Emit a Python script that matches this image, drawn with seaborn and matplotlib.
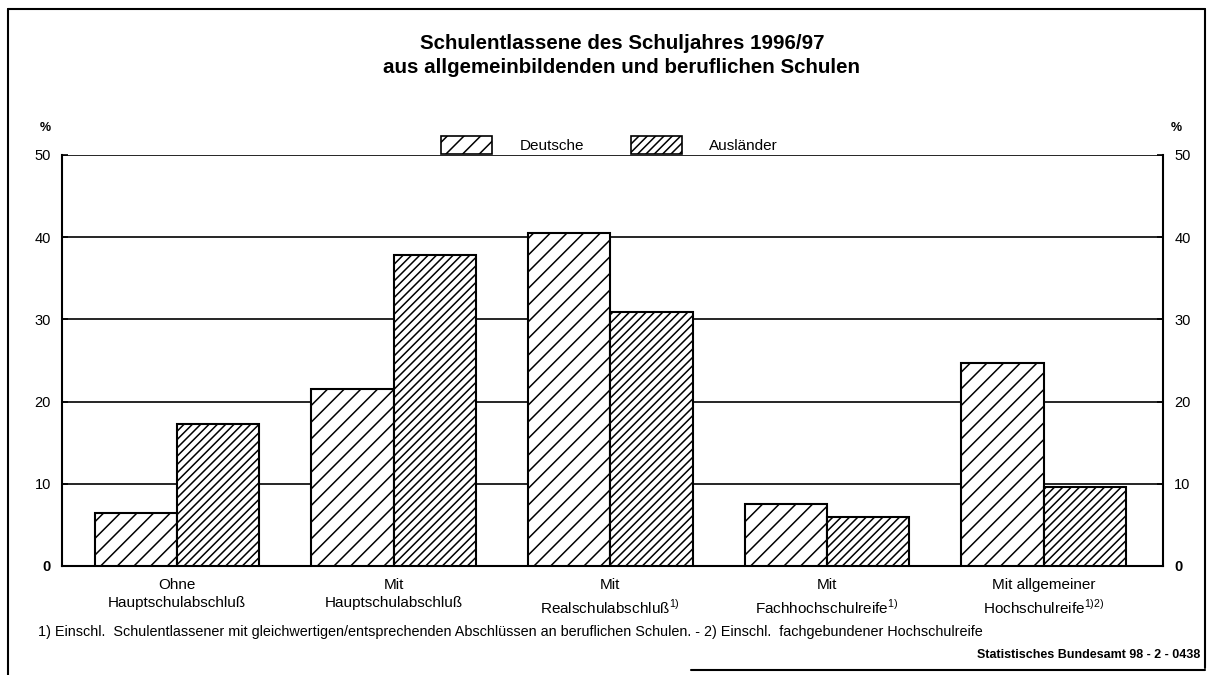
"""Schulentlassene 1996/97 - Deutsche vs. Ausländer nach Abschlussart."""

import matplotlib
matplotlib.use("Agg")
import matplotlib.pyplot as plt
from matplotlib.lines import Line2D
from matplotlib.patches import Patch
import pandas as pd
import seaborn as sns

CATEGORIES = [
    "Ohne\nHauptschulabschluß",
    "Mit\nHauptschulabschluß",
    "Mit\nRealschulabschluß$^{\\mathrm{1)}}$",
    "Mit\nFachhochschulreife$^{\\mathrm{1)}}$",
    "Mit allgemeiner\nHochschulreife$^{\\mathrm{1)2)}}$",
]
GROUPS = ["Deutsche", "Ausländer"]
DEUTSCHE = [6.5, 21.5, 40.5, 7.5, 24.7]
AUSLAENDER = [17.3, 37.8, 30.9, 5.9, 9.6]
Y_TICKS = [0, 10, 20, 30, 40, 50]

TITLE = ("Schulentlassene des Schuljahres 1996/97\n"
         "aus allgemeinbildenden und beruflichen Schulen")
FOOTNOTE = ("1) Einschl.  Schulentlassener mit gleichwertigen/entsprechenden "
            "Abschlüssen an beruflichen Schulen. - 2) Einschl.  fachgebundener "
            "Hochschulreife")
SOURCE = "Statistisches Bundesamt 98 - 2 - 0438"

HATCHES = {"Deutsche": "//", "Ausländer": "////"}

df = pd.DataFrame({
    "kategorie": CATEGORIES * 2,
    "gruppe": [GROUPS[0]] * len(CATEGORIES) + [GROUPS[1]] * len(CATEGORIES),
    "anteil": DEUTSCHE + AUSLAENDER,
})

sns.set_style("white")
plt.rcParams["font.family"] = ["Liberation Sans", "DejaVu Sans"]
plt.rcParams["mathtext.fontset"] = "custom"
plt.rcParams["mathtext.rm"] = "Liberation Sans"
plt.rcParams["hatch.linewidth"] = 1.1
plt.rcParams["hatch.color"] = "black"
for key in ["text.color", "axes.labelcolor", "xtick.color", "ytick.color"]:
    plt.rcParams[key] = "black"

fig = plt.figure(figsize=(12.12, 6.75), dpi=100)
ax = fig.add_axes([0.0512, 0.1615, 0.9084, 0.6089])

sns.barplot(data=df, x="kategorie", y="anteil", hue="gruppe",
            palette=["white", "white"], width=0.76, saturation=1,
            edgecolor="black", linewidth=1.5, legend=False, ax=ax)

for cont, grp in zip(ax.containers, GROUPS):
    for bar in cont:
        bar.set_hatch(HATCHES[grp])
        bar.set_edgecolor("black")
        bar.set_zorder(3)

ax.set_xlim(-0.53, 4.55)
ax.set_ylim(0, 50)
ax.set_yticks(Y_TICKS)
ax.set_axisbelow(True)
ax.yaxis.grid(True, color="black", linewidth=1.2)
ax.xaxis.grid(False)
ax.set_xlabel("")
ax.set_ylabel("")

for side in ["left", "right", "bottom"]:
    ax.spines[side].set_visible(True)
    ax.spines[side].set_color("black")
    ax.spines[side].set_linewidth(1.5)
ax.spines["top"].set_visible(False)

ax.tick_params(axis="y", left=True, right=True, labelleft=True, labelright=True,
               direction="in", length=4, width=1.2, pad=8, labelsize=10.5)
ax.tick_params(axis="x", bottom=False, labelsize=11, pad=5)
for lab in ax.get_xticklabels():
    lab.set_linespacing(1.42)
for tick in ax.yaxis.get_major_ticks()[:1]:
    tick.label1.set_fontweight("bold")
    tick.label2.set_fontweight("bold")

fig.text(0.513, 0.918, TITLE, ha="center", va="center", fontsize=14.8,
         fontweight="bold", linespacing=1.3)

handles = [Patch(facecolor="white", edgecolor="black", hatch=HATCHES[g],
                 linewidth=1.2, label=g) for g in GROUPS]
fig.legend(handles=handles, loc="center", bbox_to_anchor=(0.503, 0.785),
           ncol=2, frameon=False, fontsize=11, handlelength=3.3,
           handleheight=1.4, handletextpad=1.8, columnspacing=3.1)

fig.text(0.033, 0.806, "%", fontsize=9, fontweight="bold", ha="left")
fig.text(0.966, 0.806, "%", fontsize=9, fontweight="bold", ha="left")

fig.text(0.031, 0.064, FOOTNOTE, fontsize=10.4, ha="left", va="center")
fig.text(0.990, 0.030, SOURCE, fontsize=9, fontweight="bold", ha="right",
         va="center")

# Rahmen um die Grafik
frame = dict(color="black", linewidth=1.5, transform=fig.transFigure)
fig.add_artist(Line2D([0.0066, 0.0066], [0.0, 0.987], **frame))
fig.add_artist(Line2D([0.0066, 0.994], [0.987, 0.987], **frame))
fig.add_artist(Line2D([0.994, 0.994], [0.01, 0.987], **frame))
fig.add_artist(Line2D([0.57, 0.994], [0.008, 0.008], **frame))

fig.savefig("out.png", dpi=100)
